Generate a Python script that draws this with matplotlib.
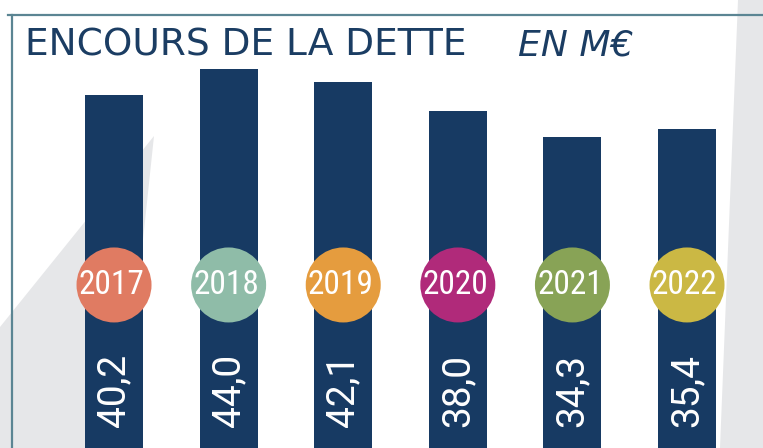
import numpy as np
import matplotlib.pyplot as plt
from matplotlib import font_manager
from matplotlib.patches import Polygon
from matplotlib.lines import Line2D

years = ['2017', '2018', '2019', '2020', '2021', '2022']
dette = [40.2, 44.0, 42.1, 38.0, 34.3, 35.4]
labels = ['40,2', '44,0', '42,1', '38,0', '34,3', '35,4']
year_colors = ['#e07b62', '#8fbca8', '#e59c3e', '#b02a7a', '#88a356', '#cbb844']

navy = '#173a63'
grey = '#e6e7e9'
frame = '#5b8593'

# condensed face for the year badges, if one is around
narrow = None
for f in font_manager.fontManager.ttflist:
    if f.name in ('Liberation Sans Narrow', 'Roboto Condensed', 'Open Sans Condensed'):
        narrow = (f.name, 'normal')
        break
    if f.name == 'DejaVu Sans' and f.stretch == 'condensed' and f.weight in (400, 'normal'):
        narrow = ('DejaVu Sans', 'condensed')
if narrow is None:
    narrow = ('DejaVu Sans', 'normal')

W, H = 763, 448
fig = plt.figure(figsize=(W / 100, H / 100), dpi=100)
ax = fig.add_axes([0, 0, 1, 1])
ax.set_xlim(-0.995, 5.663)
ymin, ymax = -10.0, 53.75
ax.set_ylim(ymin, ymax)
ax.axis('off')

def px(x, y):
    # pixel (top-left origin) -> axes fraction
    return (x / W, 1 - y / H)

# background shapes
ax.add_patch(Polygon([px(0, 327), px(154, 136), px(121, 448), px(0, 448)],
                     closed=True, transform=ax.transAxes, fc=grey, ec='none', zorder=0))
ax.add_patch(Polygon([px(738, 0), px(763, 0), px(763, 448), px(720, 448)],
                     closed=True, transform=ax.transAxes, fc=grey, ec='none', zorder=0))

# frame lines
ax.add_line(Line2D([8 / W, 1], [1 - 15 / H] * 2, transform=ax.transAxes,
                   color=frame, lw=1.6, zorder=1))
ax.add_line(Line2D([12 / W] * 2, [1 - 15 / H, 0], transform=ax.transAxes,
                   color=frame, lw=1.6, zorder=1))

x = np.arange(len(years))
heights = [v - ymin for v in dette]
ax.bar(x, heights, bottom=ymin, width=0.506, color=navy, zorder=2)

# year badges
circle_y = 13.2
ax.scatter(x, [circle_y] * len(x), s=54 ** 2, c=year_colors, zorder=3, linewidths=0)
year_size = 24 if narrow[1] == 'condensed' or narrow[0] != 'DejaVu Sans' else 17
for xi, yr in zip(x, years):
    ax.text(xi - 0.02, circle_y, yr, ha='center', va='center', color='white',
            fontsize=year_size, family=narrow[0], stretch=narrow[1], zorder=4)

# values, vertical
for xi, lab in zip(x, labels):
    ax.text(xi, -7.0, lab, rotation=90, ha='center', va='bottom', color='white',
            fontsize=28, family=['Roboto', 'DejaVu Sans'], zorder=4)

# title
fig.text(25 / W, 1 - 45 / H, 'ENCOURS DE LA DETTE', ha='left', va='center',
         color='#1b3d63', fontsize=27, family='DejaVu Sans')
fig.text(518 / W, 1 - 45 / H, 'EN M€', ha='left', va='center', style='italic',
         color='#1b3d63', fontsize=26, family='DejaVu Sans')

fig.savefig('out.png', dpi=100)
